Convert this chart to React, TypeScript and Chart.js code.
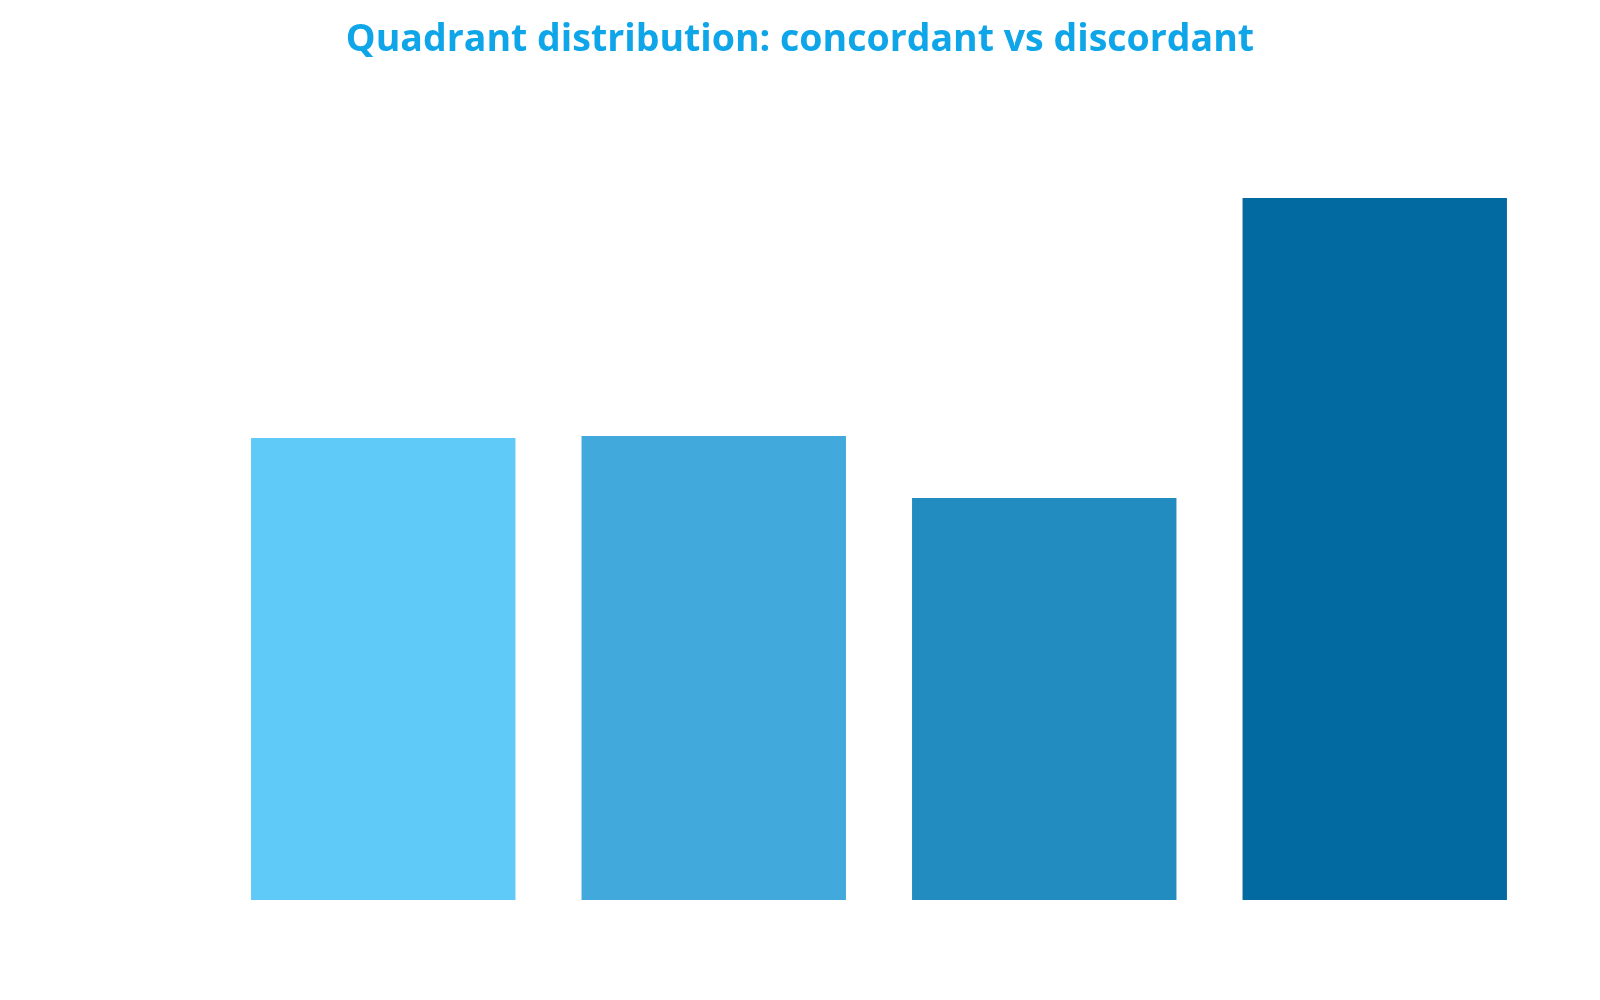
import { useEffect, useRef } from 'react'
import { Chart, registerables } from 'chart.js'

Chart.register(...registerables)

// quadrants et valeurs
const quadrants = ['Q1 (+,+)', 'Q2 (-,+)', 'Q3 (-,-)', 'Q4 (+,-)']
const counts = [23.1, 23.2, 20.1, 35.1]
const barColors = ['#5FC9F8', '#41A9DB', '#228BC0', '#0369A1']

function App() {
  const canvasRef = useRef<HTMLCanvasElement>(null)

  useEffect(() => {
    if (!canvasRef.current) return
    // axes invisibles qui servent juste a reserver la place
    const hiddenAxis = {
      display: true,
      grid: { display: false },
      border: { display: false },
      ticks: { display: false },
    }
    const chart = new Chart(canvasRef.current, {
      type: 'bar',
      data: {
        labels: quadrants,
        datasets: [{
          label: 'Count',
          data: counts,
          backgroundColor: barColors,
          borderWidth: 0,
          barPercentage: 0.8,
          categoryPercentage: 1,
          yAxisID: 'y',
        }],
      },
      options: {
        animation: false,
        responsive: true,
        maintainAspectRatio: false,
        layout: { padding: 0 },
        plugins: {
          legend: { display: false },
          tooltip: { enabled: false },
          title: {
            display: true,
            text: 'Quadrant distribution: concordant vs discordant',
            color: '#0EA5E9',
            font: { family: '"Open Sans"', size: 37.5, weight: 'bold' },
            padding: { top: 9.5, bottom: 37.5 },
          },
        },
        scales: {
          x: { ...hiddenAxis, afterFit: (axis: any) => { axis.height = 92 } },
          y: { ...hiddenAxis, position: 'left', min: 0, max: 40, afterFit: (axis: any) => { axis.width = 210 } },
          y2: { ...hiddenAxis, position: 'right', min: 0, max: 40, afterFit: (axis: any) => { axis.width = 52 } },
        },
      },
    })
    return () => chart.destroy()
  }, [])

  return (
    <div style={{ width: '100%', height: 'calc(100vh - 16px)' }}>
      <canvas ref={canvasRef}></canvas>
    </div>
  )
}

export default App
